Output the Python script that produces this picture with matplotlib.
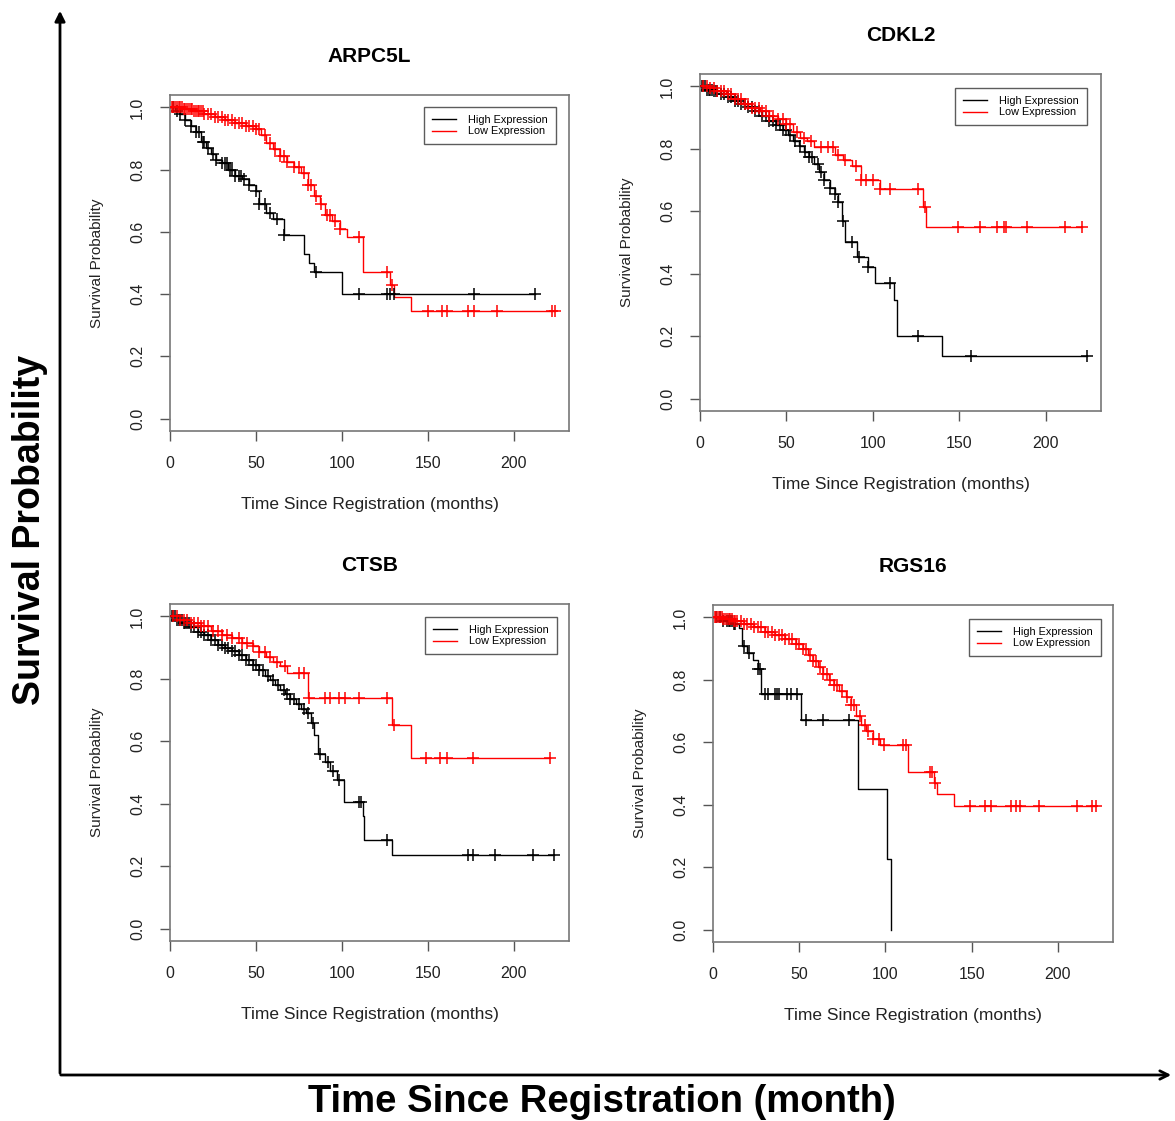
import matplotlib
matplotlib.use("Agg")
import matplotlib.pyplot as plt
from matplotlib.lines import Line2D
import numpy as np

plt.rcParams['font.family'] = ['Liberation Sans', 'DejaVu Sans']

# ---- data (months, survival probability) ----
genes = ["ARPC5L", "CDKL2", "CTSB", "RGS16"]

# ARPC5L
arpc5l_high_t = [0, 3, 6, 9, 12, 15, 18, 21, 24, 27, 30, 34, 38, 42, 46, 50, 52, 56, 60, 66, 78, 81, 84, 100]
arpc5l_high_s = [1.0, 0.99, 0.98, 0.96, 0.94, 0.92, 0.89, 0.87, 0.85, 0.83, 0.82, 0.80, 0.78, 0.77,
                 0.75, 0.73, 0.69, 0.66, 0.64, 0.59, 0.53, 0.50, 0.47, 0.40]
arpc5l_high_cens = [2, 4, 6, 9, 12, 15, 17, 19, 20, 22, 25, 27, 30, 32, 33, 35, 36, 38, 40, 41, 43, 46,
                    50, 52, 55, 58, 62, 66, 85, 110, 126, 128, 130, 177, 212]
arpc5l_low_t = [0, 8, 14, 20, 26, 32, 38, 44, 50, 53, 56, 60, 64, 68, 72, 76, 80, 84, 87, 90, 94, 99,
                103, 112, 128, 130, 140]
arpc5l_low_s = [1.0, 0.995, 0.99, 0.98, 0.97, 0.96, 0.95, 0.94, 0.93, 0.91, 0.885, 0.865, 0.845, 0.825,
                0.81, 0.79, 0.75, 0.715, 0.69, 0.655, 0.635, 0.61, 0.585, 0.47, 0.43, 0.39, 0.345]
arpc5l_low_cens = [1, 2, 3, 4, 5, 6, 7, 8, 9, 10, 11, 12, 13, 14, 15, 16, 17, 18, 19, 20, 22, 24, 26, 28,
                   30, 32, 34, 36, 38, 40, 42, 44, 46, 48, 50, 52, 55, 58, 61, 64, 66, 68, 72, 75, 78,
                   80, 82, 85, 88, 91, 93, 96, 99, 110, 126, 129, 150, 158, 161, 173, 177, 190, 222, 224]

# CDKL2
cdkl2_high_t = [0, 4, 8, 12, 16, 20, 24, 28, 32, 36, 40, 44, 48, 51, 54, 57, 60, 63, 66, 69, 72, 75, 78,
                80, 82, 84, 91, 97, 101, 112, 114, 140]
cdkl2_high_s = [1.0, 0.99, 0.985, 0.975, 0.965, 0.955, 0.945, 0.935, 0.92, 0.905, 0.89, 0.875, 0.86,
                0.845, 0.825, 0.81, 0.79, 0.775, 0.75, 0.725, 0.70, 0.675, 0.655, 0.63, 0.57, 0.50,
                0.455, 0.42, 0.37, 0.315, 0.20, 0.136]
cdkl2_high_cens = [1, 2, 3, 4, 5, 6, 7, 8, 9, 10, 12, 14, 16, 18, 20, 22, 24, 26, 28, 30, 32, 34, 36,
                   38, 40, 42, 44, 46, 48, 50, 52, 55, 58, 61, 63, 65, 68, 70, 72, 75, 78, 80, 83, 88,
                   92, 97, 110, 126, 157, 224]
cdkl2_low_t = [0, 5, 10, 15, 20, 25, 30, 35, 40, 45, 50, 54, 58, 62, 66, 78, 83, 88, 93, 104, 129, 131]
cdkl2_low_s = [1.0, 0.995, 0.985, 0.975, 0.96, 0.945, 0.93, 0.92, 0.905, 0.895, 0.88, 0.855, 0.835,
               0.825, 0.805, 0.78, 0.765, 0.745, 0.70, 0.67, 0.615, 0.55]
cdkl2_low_cens = [2, 4, 6, 8, 10, 12, 14, 16, 18, 20, 22, 24, 26, 28, 30, 32, 34, 36, 38, 40, 42, 45, 48,
                  50, 52, 56, 60, 64, 70, 74, 77, 80, 84, 90, 93, 96, 100, 104, 110, 126, 130, 149,
                  162, 172, 176, 177, 189, 211, 221]

# CTSB
ctsb_high_t = [0, 4, 8, 12, 16, 20, 24, 28, 32, 36, 40, 44, 48, 52, 55, 58, 61, 64, 67, 70, 73, 76, 79,
               82, 84, 86, 90, 93, 97, 101, 112, 113, 129]
ctsb_high_s = [1.0, 0.99, 0.98, 0.965, 0.95, 0.94, 0.925, 0.91, 0.90, 0.89, 0.875, 0.86, 0.845, 0.83,
               0.81, 0.795, 0.78, 0.765, 0.75, 0.735, 0.72, 0.705, 0.69, 0.66, 0.62, 0.56, 0.535, 0.505,
               0.475, 0.405, 0.36, 0.285, 0.235]
ctsb_high_cens = [1, 2, 3, 4, 5, 6, 7, 8, 9, 10, 11, 12, 14, 16, 18, 20, 22, 24, 26, 28, 30, 32, 34, 36,
                  38, 40, 42, 44, 46, 48, 50, 52, 54, 57, 60, 63, 66, 68, 70, 72, 75, 78, 80, 83, 87,
                  92, 95, 98, 110, 111, 126, 173, 176, 189, 211, 223]
ctsb_low_t = [0, 6, 12, 18, 24, 30, 36, 42, 48, 52, 56, 60, 64, 68, 80, 129, 140]
ctsb_low_s = [1.0, 0.99, 0.98, 0.97, 0.955, 0.94, 0.93, 0.915, 0.905, 0.885, 0.87, 0.855, 0.84, 0.818,
              0.738, 0.652, 0.545]
ctsb_low_cens = [2, 4, 6, 8, 10, 12, 14, 16, 18, 20, 22, 25, 28, 30, 33, 36, 40, 42, 45, 48, 52, 55, 58,
                 62, 67, 75, 78, 81, 90, 93, 98, 102, 110, 126, 130, 149, 157, 161, 176, 221]

# RGS16
rgs16_high_t = [0, 6, 12, 15, 17, 20, 23, 26, 28, 51, 84, 101, 103]
rgs16_high_s = [1.0, 0.99, 0.98, 0.965, 0.91, 0.885, 0.865, 0.835, 0.755, 0.67, 0.45, 0.225, 0.0]
rgs16_high_cens = [2, 4, 6, 8, 9, 10, 11, 12, 13, 18, 21, 26, 27, 30, 32, 36, 37, 38, 43, 45, 49, 54,
                   64, 79]
rgs16_low_t = [0, 6, 12, 18, 24, 30, 36, 42, 48, 52, 55, 58, 61, 64, 67, 70, 73, 77, 80, 83, 86, 89, 93,
               97, 113, 128, 130, 140]
rgs16_low_s = [1.0, 0.995, 0.99, 0.98, 0.97, 0.955, 0.945, 0.93, 0.915, 0.9, 0.88, 0.86, 0.84, 0.82,
               0.80, 0.785, 0.765, 0.745, 0.72, 0.685, 0.655, 0.635, 0.61, 0.59, 0.505, 0.47, 0.435,
               0.397]
rgs16_low_cens = [1, 2, 3, 4, 5, 6, 7, 8, 9, 10, 11, 12, 13, 14, 16, 18, 20, 22, 24, 26, 28, 30, 32, 34,
                  36, 38, 40, 42, 44, 46, 48, 50, 52, 54, 56, 58, 60, 62, 64, 66, 68, 70, 72, 75, 78,
                  80, 82, 85, 88, 90, 93, 96, 99, 110, 112, 126, 127, 129, 149, 158, 161, 173, 176,
                  178, 189, 211, 220, 222]

panels = [
    (arpc5l_high_t, arpc5l_high_s, arpc5l_high_cens, arpc5l_low_t, arpc5l_low_s, arpc5l_low_cens),
    (cdkl2_high_t, cdkl2_high_s, cdkl2_high_cens, cdkl2_low_t, cdkl2_low_s, cdkl2_low_cens),
    (ctsb_high_t, ctsb_high_s, ctsb_high_cens, ctsb_low_t, ctsb_low_s, ctsb_low_cens),
    (rgs16_high_t, rgs16_high_s, rgs16_high_cens, rgs16_low_t, rgs16_low_s, rgs16_low_cens),
]

x_ticks = [0, 50, 100, 150, 200]
y_ticks = [0.0, 0.2, 0.4, 0.6, 0.8, 1.0]

W, H = 1175, 1121
# axes boxes in pixels: left, top, right, bottom
boxes = [(170, 95, 569, 431), (700, 74, 1101, 411), (170, 604, 569, 941), (713, 605, 1113, 942)]
legend_anchor = [(0.967, 0.964), (0.965, 0.958), (0.970, 0.961), (0.970, 0.958)]


def km_curve(ax, t, s, cens, color):
    t = list(t)
    s = list(s)
    end = max(t[-1], max(cens))
    tt = t + [end]
    ss = s + [s[-1]]
    ax.step(tt, ss, where='post', color=color, lw=1.0, zorder=3)
    idx = np.searchsorted(np.array(t), np.array(cens), side='right') - 1
    ax.plot(cens, np.array(s)[idx], linestyle='none', marker='+', color=color,
            markersize=9, markeredgewidth=1.1, zorder=4)


fig = plt.figure(figsize=(W / 100, H / 100), dpi=100)

# overlay for the big arrows and outer labels
bg = fig.add_axes([0, 0, 1, 1], zorder=0)
bg.set_xlim(0, W)
bg.set_ylim(H, 0)
bg.axis('off')
bg.annotate('', xy=(60, 8), xytext=(60, 1076),
            arrowprops=dict(arrowstyle='-|>,head_length=0.6,head_width=0.3', lw=2, color='black'))
bg.annotate('', xy=(1174, 1075), xytext=(58, 1075),
            arrowprops=dict(arrowstyle='->,head_length=0.6,head_width=0.3', lw=2, color='black'))
bg.text(30, 530, 'Survival Probability', rotation=90, ha='center', va='center',
        fontsize=27, fontweight='bold')
bg.text(602, 1102, 'Time Since Registration (month)', ha='center', va='center',
        fontsize=27.5, fontweight='bold')

for i, (gene, data, box) in enumerate(zip(genes, panels, boxes)):
    l, t, r, b = box
    ax = fig.add_axes([l / W, 1 - b / H, (r - l) / W, (b - t) / H], zorder=1)
    ht, hs, hc, lt, ls, lc = data
    km_curve(ax, ht, hs, hc, 'black')
    km_curve(ax, lt, ls, lc, 'red')

    ax.set_xlim(0, 232)
    ax.set_ylim(-0.04, 1.04)
    ax.set_xticks(x_ticks)
    ax.set_xticklabels([str(v) for v in x_ticks])
    ax.set_yticks(y_ticks)
    ax.set_yticklabels([f"{v:.1f}" for v in y_ticks])
    ax.tick_params(direction='out', length=7, width=1, color='#555555',
                   labelsize=11.5, labelcolor='#222222', pad=11)
    ax.tick_params(axis='y', labelrotation=90)
    for lab in ax.get_yticklabels():
        lab.set_va('center')
    for sp in ax.spines.values():
        sp.set_color('#777777')
        sp.set_linewidth(1.2)

    ax.set_xlabel('Time Since Registration (months)', fontsize=12.5, color='#222222')
    ax.xaxis.set_label_coords(0.5, -0.195)
    ax.set_ylabel('Survival Probability', fontsize=11, color='#222222')
    ax.yaxis.set_label_coords(-0.165, 0.5)
    ax.set_title(gene, fontsize=15, fontweight='bold', pad=24)

    handles = [Line2D([], [], color='black', lw=1.0), Line2D([], [], color='red', lw=1.0)]
    leg = ax.legend(handles, ['High Expression', 'Low Expression'], loc='upper right',
                    bbox_to_anchor=legend_anchor[i], borderaxespad=0, fontsize=7.8,
                    frameon=True, fancybox=False, edgecolor='#333333', handlelength=2.2,
                    labelspacing=0.1, borderpad=0.75, handletextpad=1.1)
    leg.get_frame().set_linewidth(1.0)

fig.savefig('out.png', dpi=100)
